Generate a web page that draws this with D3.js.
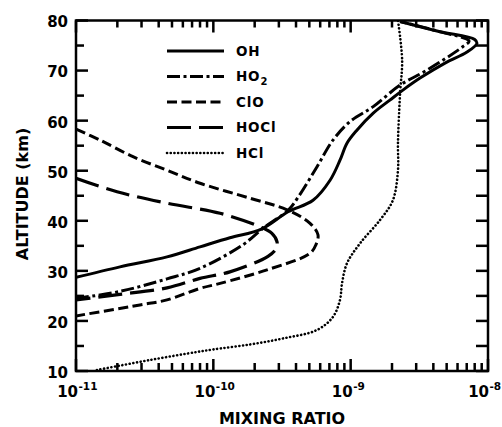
<!DOCTYPE html>
<html>
<head>
<meta charset="utf-8">
<script src="https://cdn.jsdelivr.net/npm/d3@7"></script>
<style>
  body { margin: 0; background: #fff; }
  svg { display: block; font-family: "DejaVu Sans", sans-serif; font-weight: bold; }
</style>
</head>
<body>
<svg id="chart"></svg>
<script>
// species profiles, altitude (km) and mixing ratio
const species = ["OH", "HO2", "ClO", "HOCl", "HCl"];

const ohAlt   = [28.7, 30.8, 32.8, 34.8, 36.6, 38.4, 41.8, 44.1, 48.1, 52.1, 55.5, 58.1, 61.5, 64.1, 66.1, 68.5, 71.5, 73.7, 75.4, 76.2, 77.8, 79.8];
const ohRatio = [1.0e-11, 2.09e-11, 4.6e-11, 8.0e-11, 1.32e-10, 2.26e-10, 3.5e-10, 5.32e-10, 7.08e-10, 8.36e-10, 9.4e-10, 1.11e-9, 1.46e-9, 1.93e-9, 2.4e-9, 3.2e-9, 4.86e-9, 7.03e-9, 8.3e-9, 8.0e-9, 4.4e-9, 2.29e-9];

const ho2Alt   = [24.5, 25.9, 28.4, 30.5, 35.2, 38.5, 42.1, 44.7, 50.8, 56.1, 59.8, 62.8, 67.1, 70.1, 74.8, 75.9, 77.9, 79.8];
const ho2Ratio = [1.0e-11, 2.09e-11, 4.6e-11, 8.0e-11, 1.64e-10, 2.3e-10, 3.5e-10, 4.14e-10, 5.69e-10, 7.43e-10, 9.88e-10, 1.46e-9, 2.29e-9, 3.6e-9, 6.58e-9, 7.28e-9, 4.26e-9, 2.29e-9];

const cloAlt   = [58.3, 56.1, 52.8, 50.1, 47.5, 44.5, 42.2, 39.5, 37.2, 35.3, 33.5, 30.2, 27.5, 26.5, 24.2, 23.2, 21.0];
const cloRatio = [1.0e-11, 1.5e-11, 2.6e-11, 4.6e-11, 8.0e-11, 1.85e-10, 3.44e-10, 5.06e-10, 5.78e-10, 5.6e-10, 5.06e-10, 2.46e-10, 1.12e-10, 8.0e-11, 4.6e-11, 2.92e-11, 1.0e-11];

const hoclAlt   = [48.5, 45.8, 43.5, 41.5, 38.8, 37.5, 35.8, 34.4, 32.9, 29.8, 28.5, 26.6, 25.3, 24.2];
const hoclRatio = [1.0e-11, 1.99e-11, 4.6e-11, 1.12e-10, 2.19e-10, 2.67e-10, 2.91e-10, 2.86e-10, 2.5e-10, 1.32e-10, 8.0e-11, 4.6e-11, 2.09e-11, 1.0e-11];

const hclAlt   = [10.2, 12.2, 13.8, 14.3, 15.3, 16.5, 18.2, 20.8, 24.2, 27.5, 31.5, 35.5, 40.2, 44.1, 50.1, 55.5, 65.5, 72.1, 80.0];
const hclRatio = [1.42e-11, 3.46e-11, 7.6e-11, 9.96e-11, 1.85e-10, 3.21e-10, 5.69e-10, 7.43e-10, 8.36e-10, 8.65e-10, 9.4e-10, 1.17e-9, 1.64e-9, 2.03e-9, 2.21e-9, 2.21e-9, 2.29e-9, 2.37e-9, 2.21e-9];

const xMajorTicks = [1e-11, 1e-10, 1e-9, 1e-8];
const xTickExponents = ["-11", "-10", "-9", "-8"];
const yMajorTicks = [10, 20, 30, 40, 50, 60, 70, 80];
const yMinorTicks = [15, 25, 35, 45, 55, 65, 75];

const w = 502, h = 427;
const m = { left: 76, right: 488, top: 20.5, bottom: 371 };

const svg = d3.select("#chart").attr("width", w).attr("height", h);

const x = d3.scaleLog().domain([1e-11, 1e-8]).range([m.left, m.right]);
const y = d3.scaleLinear().domain([10, 80]).range([m.bottom, m.top]);

// minor x ticks 2..9 per decade
const xMinorTicks = [];
xMajorTicks.slice(0, -1).forEach(d => { for (let k = 2; k <= 9; k++) xMinorTicks.push(d * k); });

// frame
svg.append("rect")
  .attr("x", m.left).attr("y", m.top)
  .attr("width", m.right - m.left).attr("height", m.bottom - m.top)
  .attr("fill", "none").attr("stroke", "#000").attr("stroke-width", 2.5);

// inward ticks
const tickG = svg.append("g").attr("fill", "#000");
function xTicks(vals, y0, len) {
  tickG.append("g").selectAll("rect").data(vals).join("rect")
    .attr("x", d => x(d) - 1.25)
    .attr("y", len < 0 ? y0 + len : y0)
    .attr("width", 2.5)
    .attr("height", Math.abs(len));
}
function yTicks(vals, x0, len) {
  tickG.append("g").selectAll("rect").data(vals).join("rect")
    .attr("y", d => y(d) - 1.25)
    .attr("x", len < 0 ? x0 + len : x0)
    .attr("height", 2.5)
    .attr("width", Math.abs(len));
}
xTicks(xMajorTicks, m.bottom, -12);
xTicks(xMinorTicks, m.bottom, -8);
xTicks(xMajorTicks, m.top, 12);
xTicks(xMinorTicks, m.top, 7);
yTicks(yMajorTicks, m.left, 12);
yTicks(yMinorTicks, m.left, 8);
yTicks(yMajorTicks.concat(yMinorTicks), m.right, -12);

// y labels
svg.append("g").selectAll("text")
  .data(yMajorTicks)
  .join("text")
    .attr("x", m.left - 8)
    .attr("y", d => y(d) + 1.5)
    .attr("dy", "0.36em")
    .attr("text-anchor", "end")
    .attr("font-size", 15)
    .text(d => d);

// x labels: 10 with a superscript exponent
const xl = svg.append("g").selectAll("g")
  .data(xMajorTicks)
  .join("g")
    .attr("transform", (d, i) => `translate(${x(d) + (i === xMajorTicks.length - 1 ? 1 : 2)},0)`);
xl.append("text")
  .attr("y", 397)
  .attr("text-anchor", "end")
  .attr("font-size", 15)
  .text("10");
xl.append("text")
  .attr("x", 0.5)
  .attr("y", 390)
  .attr("font-size", 10.5)
  .text((d, i) => xTickExponents[i]);

// axis titles
svg.append("text")
  .attr("x", (m.left + m.right) / 2)
  .attr("y", 424)
  .attr("text-anchor", "middle")
  .attr("font-size", 16)
  .text("MIXING RATIO");

svg.append("text")
  .attr("transform", "translate(28,194) rotate(-90)")
  .attr("text-anchor", "middle")
  .attr("font-size", 16)
  .text("ALTITUDE (km)");

// curves
const styles = {
  OH:   { dash: null,           width: 3,   cap: "butt" },
  HO2:  { dash: "13,3.5,3,3.5", width: 3,   cap: "butt" },
  ClO:  { dash: "10,4.5",       width: 3,   cap: "butt" },
  HOCl: { dash: "24,8",         width: 3.2, cap: "butt" },
  HCl:  { dash: "0.1,3.6",      width: 2.6, cap: "round" }
};

const profiles = {
  OH:   ohAlt.map((a, i) => ({ a, r: ohRatio[i] })),
  HO2:  ho2Alt.map((a, i) => ({ a, r: ho2Ratio[i] })),
  ClO:  cloAlt.map((a, i) => ({ a, r: cloRatio[i] })),
  HOCl: hoclAlt.map((a, i) => ({ a, r: hoclRatio[i] })),
  HCl:  hclAlt.map((a, i) => ({ a, r: hclRatio[i] }))
};

svg.append("clipPath").attr("id", "plot")
  .append("rect")
  .attr("x", m.left).attr("y", m.top)
  .attr("width", m.right - m.left).attr("height", m.bottom - m.top);

const line = d3.line()
  .x(d => x(d.r))
  .y(d => y(d.a))
  .curve(d3.curveCatmullRom.alpha(0.5));

const curves = svg.append("g").attr("clip-path", "url(#plot)");
species.forEach(s => {
  curves.append("path")
    .datum(profiles[s])
    .attr("d", line)
    .attr("fill", "none")
    .attr("stroke", "#000")
    .attr("stroke-width", styles[s].width)
    .attr("stroke-dasharray", styles[s].dash)
    .attr("stroke-linecap", styles[s].cap)
    .attr("stroke-linejoin", "round");
});

// legend
const legendY = d3.scalePoint().domain(species).range([51, 153]);
const lg = svg.append("g").selectAll("g")
  .data(species)
  .join("g")
    .attr("transform", d => `translate(0,${legendY(d)})`);
lg.append("line")
  .attr("x1", 167).attr("x2", 224)
  .attr("stroke", "#000")
  .attr("stroke-width", d => styles[d].width)
  .attr("stroke-dasharray", d => styles[d].dash)
  .attr("stroke-linecap", d => styles[d].cap);
const lt = lg.append("text")
  .attr("x", 236)
  .attr("dy", "0.36em")
  .attr("font-size", 13.5)
  .attr("letter-spacing", 0.8);
lt.each(function(d) {
  const t = d3.select(this);
  if (d === "HO2") {
    t.append("tspan").text("HO");
    t.append("tspan").attr("font-size", 10).attr("dy", 4).text("2");
  } else {
    t.text(d);
  }
});
</script>
</body>
</html>
